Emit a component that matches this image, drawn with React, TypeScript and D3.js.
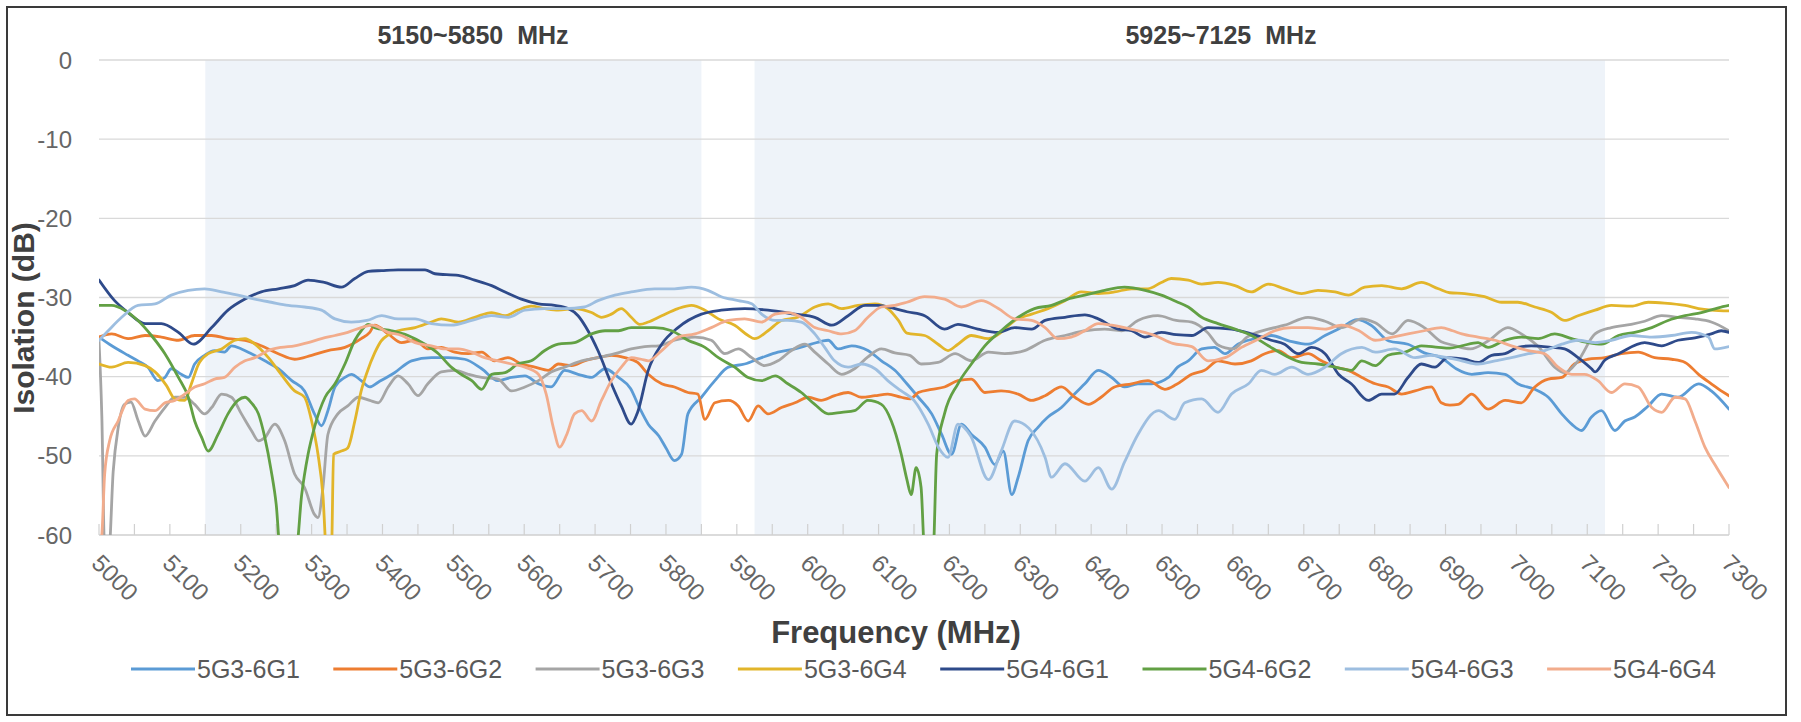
import React from "react";
import * as d3 from "d3";

type Pt = [number, number];

const seriesNames = ["5G3-6G1", "5G3-6G2", "5G3-6G3", "5G3-6G4", "5G4-6G1", "5G4-6G2", "5G4-6G3", "5G4-6G4"];
const seriesColors = ["#5B9BD5", "#ED7D31", "#A5A5A5", "#E2B52A", "#2E4A8A", "#62A044", "#9DBEE0", "#F2AC8C"];

const xTicks = [5000, 5100, 5200, 5300, 5400, 5500, 5600, 5700, 5800, 5900, 6000, 6100, 6200, 6300, 6400, 6500, 6600, 6700, 6800, 6900, 7000, 7100, 7200, 7300];
const yTicks = [0, -10, -20, -30, -40, -50, -60];
const bands: [number, number, string][] = [
  [5150, 5850, "5150~5850  MHz"],
  [5925, 7125, "5925~7125  MHz"],
];

const s5G3_6G1: Pt[] = [[5000,-35.0],[5018,-36.1],[5041,-37.3],[5055,-38.0],[5069,-38.8],[5083,-40.5],[5093,-40.1],[5102,-39.0],[5116,-39.7],[5126,-40.1],[5135,-38.4],[5149,-37.3],[5163,-36.7],[5177,-36.9],[5187,-36.1],[5201,-36.5],[5215,-37.1],[5234,-38.0],[5253,-39.0],[5272,-40.5],[5290,-41.8],[5304,-44.7],[5314,-46.2],[5323,-44.3],[5333,-41.3],[5347,-40.1],[5356,-39.7],[5370,-40.5],[5382,-41.3],[5394,-40.7],[5417,-39.5],[5441,-38.0],[5469,-37.6],[5493,-37.6],[5516,-37.8],[5540,-39.0],[5563,-40.5],[5582,-40.1],[5601,-39.9],[5620,-40.9],[5638,-41.3],[5657,-39.2],[5676,-39.7],[5695,-40.1],[5714,-39.0],[5733,-40.1],[5750,-41.5],[5763,-44.0],[5775,-46.0],[5790,-47.5],[5800,-49.0],[5812,-50.6],[5822,-49.8],[5831,-44.7],[5850,-42.6],[5869,-40.5],[5888,-38.8],[5911,-38.4],[5935,-37.6],[5958,-36.9],[5982,-36.5],[6005,-35.9],[6029,-35.4],[6043,-36.5],[6062,-36.1],[6085,-36.7],[6104,-38.0],[6123,-39.2],[6140,-40.9],[6156,-42.6],[6175,-44.7],[6189,-47.3],[6203,-49.8],[6217,-46.0],[6231,-47.3],[6250,-48.9],[6264,-51.1],[6276,-49.4],[6288,-54.9],[6297,-52.7],[6311,-48.1],[6325,-46.4],[6339,-45.1],[6358,-43.9],[6372,-42.6],[6391,-40.9],[6410,-39.2],[6429,-40.1],[6447,-41.3],[6466,-40.9],[6485,-40.9],[6509,-40.1],[6522,-38.8],[6537,-38.0],[6556,-36.5],[6574,-36.3],[6589,-37.1],[6607,-35.9],[6631,-35.2],[6654,-34.8],[6680,-35.5],[6706,-35.9],[6730,-34.8],[6753,-33.8],[6775,-32.8],[6795,-33.5],[6820,-35.5],[6847,-35.9],[6870,-37.0],[6894,-37.6],[6915,-39.0],[6937,-39.7],[6960,-39.5],[6984,-39.7],[7002,-40.9],[7026,-41.6],[7045,-42.6],[7064,-44.7],[7078,-46.0],[7092,-46.8],[7106,-45.1],[7120,-44.3],[7139,-46.8],[7153,-45.6],[7167,-45.1],[7186,-43.7],[7205,-42.2],[7228,-42.6],[7257,-40.9],[7275,-41.8],[7300,-44.1]];

const s5G3_6G2: Pt[] = [[5000,-35.0],[5018,-34.6],[5041,-35.2],[5065,-34.8],[5088,-35.0],[5112,-35.4],[5135,-34.8],[5159,-34.8],[5182,-35.2],[5206,-35.4],[5229,-36.1],[5253,-37.1],[5276,-37.8],[5300,-37.3],[5323,-36.7],[5347,-36.3],[5370,-35.2],[5382,-34.4],[5389,-33.5],[5408,-34.6],[5427,-35.7],[5446,-35.4],[5464,-36.5],[5483,-36.3],[5502,-36.9],[5521,-37.1],[5540,-36.9],[5558,-38.0],[5577,-37.6],[5596,-38.4],[5615,-38.8],[5634,-39.2],[5648,-38.4],[5667,-38.6],[5685,-38.0],[5704,-37.6],[5723,-37.3],[5742,-37.6],[5760,-38.2],[5775,-39.7],[5794,-40.9],[5812,-41.3],[5831,-42.0],[5845,-42.2],[5855,-45.4],[5869,-43.3],[5888,-43.0],[5902,-43.7],[5916,-45.6],[5930,-43.7],[5944,-44.7],[5963,-43.9],[5982,-43.3],[6001,-42.6],[6019,-43.0],[6038,-42.4],[6057,-42.0],[6076,-42.6],[6095,-42.4],[6113,-42.2],[6132,-42.6],[6145,-42.8],[6156,-42.0],[6175,-41.6],[6193,-41.3],[6212,-40.5],[6231,-40.3],[6250,-42.0],[6273,-41.8],[6297,-42.2],[6316,-43.0],[6335,-42.4],[6358,-41.3],[6377,-42.6],[6396,-43.5],[6414,-42.6],[6433,-41.3],[6457,-40.9],[6480,-40.5],[6504,-41.6],[6520,-41.0],[6542,-39.7],[6560,-39.2],[6579,-38.0],[6603,-38.4],[6626,-38.0],[6645,-37.1],[6664,-36.7],[6683,-37.6],[6706,-37.1],[6725,-38.0],[6744,-38.8],[6763,-39.2],[6782,-40.1],[6801,-40.9],[6819,-41.3],[6838,-42.2],[6857,-41.8],[6880,-41.3],[6894,-43.3],[6906,-43.6],[6918,-43.5],[6937,-42.2],[6960,-44.1],[6984,-43.0],[7007,-43.3],[7026,-41.3],[7045,-40.3],[7064,-40.1],[7082,-38.4],[7101,-37.8],[7125,-37.6],[7148,-37.1],[7172,-36.9],[7195,-37.6],[7219,-37.8],[7238,-38.2],[7257,-39.7],[7275,-40.9],[7289,-41.8],[7300,-42.4]];

const s5G3_6G3: Pt[] = [[5000,-35.5],[5004,-45.0],[5008,-62.0],[5014,-62.0],[5020,-52.0],[5027,-46.5],[5036,-43.5],[5045,-43.2],[5055,-45.5],[5065,-47.5],[5079,-45.6],[5093,-43.9],[5107,-42.6],[5121,-42.6],[5135,-43.5],[5149,-44.7],[5159,-43.9],[5173,-42.2],[5187,-42.6],[5201,-44.7],[5215,-46.8],[5225,-48.1],[5234,-47.7],[5248,-46.0],[5262,-48.1],[5276,-52.3],[5290,-54.0],[5304,-57.4],[5309,-57.8],[5316,-54.0],[5323,-47.3],[5337,-44.7],[5351,-43.7],[5366,-42.6],[5382,-43.0],[5394,-43.3],[5408,-41.3],[5422,-39.9],[5436,-40.9],[5450,-42.4],[5464,-40.9],[5483,-39.4],[5502,-39.2],[5521,-39.7],[5540,-40.1],[5563,-40.3],[5582,-41.8],[5601,-41.3],[5620,-40.5],[5638,-39.4],[5657,-38.8],[5681,-38.0],[5704,-37.6],[5728,-37.1],[5751,-36.5],[5770,-36.2],[5790,-36.1],[5812,-35.4],[5841,-35.0],[5864,-35.4],[5883,-37.1],[5902,-36.5],[5921,-37.6],[5939,-38.6],[5958,-38.0],[5977,-36.7],[5996,-35.9],[6010,-36.9],[6029,-38.4],[6048,-39.7],[6066,-39.0],[6085,-37.5],[6104,-36.5],[6123,-37.0],[6144,-37.3],[6160,-38.4],[6184,-38.2],[6208,-37.1],[6231,-38.0],[6255,-36.9],[6278,-37.1],[6306,-36.7],[6335,-35.4],[6363,-34.8],[6391,-34.2],[6419,-34.0],[6443,-34.2],[6466,-32.9],[6494,-32.3],[6520,-32.9],[6542,-33.1],[6565,-34.5],[6579,-36.0],[6600,-36.5],[6620,-35.0],[6650,-34.0],[6673,-33.5],[6706,-32.5],[6730,-33.0],[6753,-33.8],[6782,-32.7],[6801,-33.2],[6825,-34.6],[6847,-32.9],[6870,-33.8],[6894,-35.6],[6910,-36.0],[6935,-36.5],[6960,-35.5],[6988,-33.8],[7007,-34.6],[7031,-36.2],[7054,-38.8],[7068,-39.5],[7087,-38.0],[7111,-34.6],[7134,-33.8],[7162,-33.4],[7181,-33.0],[7205,-32.3],[7228,-32.5],[7252,-32.7],[7275,-33.1],[7300,-34.2]];

const s5G3_6G4: Pt[] = [[5000,-38.4],[5018,-38.8],[5041,-38.2],[5065,-38.6],[5079,-39.4],[5095,-41.1],[5107,-42.8],[5121,-43.0],[5130,-41.0],[5140,-38.5],[5154,-37.1],[5173,-36.5],[5192,-35.4],[5206,-35.2],[5220,-35.9],[5239,-37.6],[5257,-39.7],[5276,-41.8],[5290,-42.6],[5300,-45.6],[5309,-49.8],[5316,-55.0],[5321,-62.0],[5328,-62.0],[5331,-49.8],[5342,-49.4],[5351,-49.0],[5361,-45.6],[5370,-41.8],[5378,-39.5],[5389,-37.0],[5399,-35.4],[5422,-34.2],[5446,-33.8],[5469,-33.1],[5483,-32.7],[5507,-33.1],[5530,-32.5],[5554,-31.9],[5573,-32.3],[5591,-31.6],[5610,-31.1],[5629,-31.4],[5648,-31.6],[5671,-31.4],[5695,-31.9],[5709,-32.5],[5723,-32.1],[5737,-31.4],[5751,-32.5],[5763,-33.4],[5775,-33.1],[5794,-32.3],[5817,-31.4],[5836,-31.0],[5855,-31.6],[5874,-32.7],[5897,-33.5],[5916,-34.8],[5925,-35.2],[5944,-34.2],[5963,-32.9],[5986,-32.5],[6010,-31.2],[6029,-30.8],[6048,-31.4],[6071,-31.0],[6095,-30.8],[6113,-31.4],[6128,-32.9],[6140,-34.5],[6165,-34.8],[6184,-35.9],[6198,-36.7],[6212,-35.9],[6231,-34.8],[6255,-35.2],[6273,-34.4],[6292,-32.9],[6316,-32.1],[6339,-31.4],[6363,-30.4],[6386,-29.3],[6410,-29.5],[6433,-29.3],[6457,-28.9],[6480,-28.9],[6499,-28.1],[6513,-27.6],[6537,-27.8],[6556,-28.3],[6579,-28.1],[6603,-28.5],[6626,-29.3],[6650,-28.3],[6673,-28.9],[6697,-29.5],[6720,-29.1],[6744,-29.3],[6763,-29.7],[6786,-28.7],[6810,-28.5],[6838,-28.9],[6866,-28.1],[6890,-28.9],[6906,-29.4],[6927,-29.5],[6955,-29.9],[6979,-30.6],[7002,-30.6],[7026,-31.2],[7050,-31.9],[7068,-32.9],[7087,-32.3],[7111,-31.6],[7134,-31.0],[7162,-31.1],[7186,-30.6],[7209,-30.7],[7238,-31.0],[7257,-31.4],[7275,-31.6],[7300,-31.7]];

const s5G4_6G1: Pt[] = [[5000,-27.8],[5022,-30.4],[5041,-31.9],[5065,-33.3],[5088,-33.3],[5112,-34.4],[5133,-35.9],[5159,-33.8],[5182,-31.6],[5206,-30.2],[5229,-29.3],[5253,-28.9],[5276,-28.5],[5295,-27.8],[5318,-28.1],[5342,-28.7],[5361,-27.6],[5380,-26.7],[5399,-26.6],[5422,-26.5],[5460,-26.5],[5474,-27.0],[5507,-27.2],[5530,-27.8],[5554,-28.5],[5573,-29.3],[5596,-30.2],[5620,-30.8],[5643,-31.0],[5662,-31.4],[5676,-32.3],[5690,-34.2],[5704,-36.7],[5723,-40.9],[5737,-43.7],[5751,-46.0],[5760,-44.5],[5775,-39.2],[5794,-35.9],[5817,-33.8],[5850,-32.1],[5878,-31.6],[5911,-31.4],[5944,-31.6],[5982,-32.1],[6010,-32.5],[6034,-33.5],[6057,-32.3],[6081,-31.0],[6099,-31.0],[6123,-31.4],[6140,-31.8],[6165,-32.3],[6193,-34.0],[6212,-33.4],[6240,-34.0],[6269,-34.4],[6292,-33.8],[6316,-34.0],[6335,-32.9],[6363,-32.5],[6391,-32.2],[6410,-32.7],[6438,-34.0],[6457,-34.2],[6476,-35.0],[6499,-34.4],[6520,-34.7],[6542,-34.8],[6565,-33.8],[6598,-34.0],[6626,-34.6],[6654,-35.4],[6673,-35.9],[6692,-37.1],[6711,-36.3],[6730,-37.1],[6749,-39.7],[6767,-40.9],[6791,-43.0],[6810,-42.2],[6828,-42.2],[6847,-40.1],[6866,-38.4],[6885,-38.8],[6903,-37.6],[6927,-37.8],[6946,-38.2],[6965,-37.3],[6984,-37.1],[7002,-36.3],[7021,-36.1],[7050,-36.3],[7068,-36.5],[7087,-37.6],[7106,-39.0],[7111,-39.4],[7125,-37.9],[7144,-37.1],[7181,-35.7],[7205,-36.1],[7228,-35.4],[7252,-35.1],[7275,-34.6],[7289,-34.2],[7300,-34.4]];

const s5G4_6G2: Pt[] = [[5000,-31.0],[5018,-31.0],[5036,-31.6],[5055,-32.9],[5074,-34.8],[5093,-37.1],[5112,-40.1],[5126,-42.6],[5135,-45.6],[5145,-47.7],[5154,-49.4],[5168,-47.3],[5182,-44.7],[5196,-43.0],[5206,-42.6],[5215,-43.3],[5225,-44.7],[5234,-47.7],[5243,-51.9],[5250,-56.1],[5256,-62.0],[5278,-62.0],[5286,-54.9],[5295,-49.8],[5304,-46.4],[5319,-42.6],[5333,-40.9],[5347,-38.4],[5361,-35.4],[5370,-34.2],[5380,-33.4],[5389,-33.8],[5413,-34.2],[5436,-34.8],[5460,-35.9],[5479,-37.1],[5497,-38.8],[5511,-39.7],[5526,-40.5],[5540,-41.6],[5554,-39.7],[5573,-39.5],[5591,-38.4],[5610,-38.0],[5629,-36.7],[5648,-35.9],[5671,-35.7],[5695,-34.6],[5714,-34.2],[5733,-34.2],[5751,-33.8],[5784,-33.8],[5808,-34.2],[5831,-35.4],[5855,-36.3],[5874,-37.6],[5897,-38.8],[5916,-40.1],[5935,-40.5],[5954,-39.9],[5972,-40.9],[5991,-42.0],[6010,-43.5],[6029,-44.7],[6048,-44.5],[6066,-44.3],[6085,-43.0],[6104,-43.5],[6118,-45.6],[6132,-49.8],[6140,-53.0],[6146,-54.9],[6153,-51.5],[6160,-54.0],[6165,-62.0],[6177,-62.0],[6182,-49.8],[6193,-44.7],[6212,-40.9],[6231,-38.4],[6250,-36.1],[6273,-34.2],[6297,-32.5],[6320,-31.4],[6344,-31.0],[6367,-30.2],[6391,-29.7],[6419,-29.1],[6447,-28.7],[6476,-29.1],[6499,-29.7],[6520,-30.5],[6537,-31.2],[6556,-32.5],[6579,-33.3],[6603,-34.0],[6626,-34.8],[6650,-36.1],[6673,-37.3],[6697,-38.2],[6720,-38.4],[6744,-38.8],[6767,-39.2],[6782,-38.0],[6801,-38.6],[6819,-37.3],[6843,-36.9],[6866,-36.1],[6890,-36.3],[6906,-36.4],[6923,-36.1],[6946,-35.7],[6960,-36.3],[6984,-35.4],[7007,-35.0],[7031,-35.2],[7054,-34.6],[7078,-35.2],[7101,-35.7],[7120,-35.9],[7144,-34.8],[7167,-34.4],[7191,-33.8],[7214,-32.9],[7238,-32.3],[7261,-31.9],[7285,-31.3],[7300,-31.0]];

const s5G4_6G3: Pt[] = [[5000,-35.4],[5013,-34.2],[5032,-32.5],[5055,-31.0],[5079,-30.8],[5102,-29.7],[5126,-29.1],[5149,-28.9],[5173,-29.3],[5196,-29.7],[5220,-30.2],[5243,-30.6],[5267,-31.0],[5290,-31.2],[5314,-31.6],[5333,-32.7],[5356,-33.1],[5378,-32.9],[5399,-32.3],[5422,-32.7],[5446,-32.7],[5469,-33.3],[5497,-33.5],[5526,-32.9],[5554,-32.3],[5577,-32.5],[5601,-31.6],[5629,-31.4],[5657,-31.4],[5685,-31.2],[5704,-30.4],[5728,-29.7],[5751,-29.3],[5784,-28.9],[5812,-28.9],[5836,-28.7],[5859,-29.1],[5878,-29.9],[5902,-30.4],[5921,-30.8],[5935,-32.1],[5954,-32.9],[5972,-32.9],[5991,-33.1],[6010,-34.6],[6024,-36.3],[6038,-38.0],[6057,-38.8],[6076,-38.4],[6095,-39.0],[6113,-40.5],[6132,-41.8],[6150,-43.0],[6170,-46.0],[6185,-49.0],[6198,-50.2],[6212,-46.0],[6230,-47.5],[6255,-53.0],[6273,-49.4],[6292,-45.6],[6312,-46.5],[6335,-50.2],[6344,-52.7],[6363,-51.0],[6391,-53.2],[6410,-51.5],[6429,-54.2],[6447,-50.8],[6466,-47.3],[6495,-44.3],[6518,-45.4],[6532,-43.3],[6556,-42.8],[6579,-44.5],[6598,-42.2],[6622,-40.9],[6640,-39.2],[6659,-39.7],[6683,-38.8],[6706,-39.7],[6730,-38.8],[6753,-37.1],[6782,-36.3],[6801,-36.9],[6828,-36.5],[6857,-37.6],[6880,-37.3],[6903,-37.6],[6923,-38.0],[6946,-38.4],[6970,-38.0],[6993,-37.6],[7017,-37.1],[7040,-36.7],[7064,-35.9],[7087,-35.4],[7111,-35.7],[7134,-35.4],[7162,-34.8],[7191,-35.0],[7219,-34.8],[7247,-34.4],[7271,-35.0],[7280,-36.5],[7300,-36.2]];

const s5G4_6G4: Pt[] = [[5000,-62.0],[5004,-60.0],[5008,-52.3],[5015,-48.1],[5027,-45.6],[5041,-43.0],[5050,-42.8],[5065,-44.1],[5079,-44.3],[5093,-43.3],[5107,-43.0],[5121,-42.2],[5135,-41.3],[5149,-40.9],[5163,-40.3],[5177,-40.1],[5192,-38.8],[5206,-38.0],[5220,-37.6],[5239,-36.7],[5257,-36.3],[5276,-36.1],[5295,-35.7],[5314,-35.2],[5333,-34.8],[5351,-34.4],[5370,-33.8],[5385,-33.5],[5408,-34.4],[5427,-34.8],[5446,-35.7],[5469,-36.1],[5488,-36.5],[5507,-36.5],[5526,-36.9],[5544,-37.6],[5563,-38.0],[5582,-38.4],[5601,-38.8],[5620,-39.7],[5631,-42.2],[5641,-46.4],[5650,-48.9],[5660,-47.3],[5671,-44.7],[5681,-44.3],[5695,-45.6],[5709,-43.0],[5723,-40.5],[5737,-38.8],[5751,-37.6],[5765,-37.8],[5775,-38.0],[5794,-36.7],[5817,-35.0],[5841,-34.6],[5864,-33.8],[5888,-32.9],[5911,-32.7],[5935,-33.1],[5954,-32.1],[5972,-31.9],[5991,-32.5],[6010,-33.8],[6029,-34.2],[6048,-34.6],[6066,-34.2],[6085,-32.5],[6104,-31.2],[6123,-31.0],[6140,-30.6],[6165,-29.9],[6193,-30.2],[6217,-31.2],[6245,-30.4],[6269,-31.4],[6292,-32.7],[6316,-32.9],[6335,-33.8],[6353,-35.2],[6372,-35.0],[6391,-34.2],[6410,-33.3],[6429,-33.5],[6447,-33.8],[6466,-34.2],[6490,-34.8],[6515,-35.8],[6542,-36.2],[6565,-38.0],[6589,-37.6],[6612,-36.3],[6635,-35.3],[6659,-34.2],[6683,-33.8],[6706,-33.8],[6730,-34.0],[6753,-33.5],[6778,-34.2],[6801,-35.4],[6825,-35.0],[6847,-34.6],[6870,-34.2],[6894,-33.8],[6910,-34.2],[6923,-34.6],[6946,-35.0],[6970,-35.4],[6993,-36.1],[7017,-36.7],[7040,-37.1],[7059,-38.8],[7078,-39.7],[7096,-39.7],[7115,-40.5],[7134,-42.0],[7153,-40.9],[7172,-41.3],[7191,-43.9],[7205,-44.5],[7224,-42.6],[7238,-42.8],[7252,-45.6],[7266,-48.9],[7280,-51.1],[7300,-54.0]];

const seriesData: Pt[][] = [s5G3_6G1, s5G3_6G2, s5G3_6G3, s5G3_6G4, s5G4_6G1, s5G4_6G2, s5G4_6G3, s5G4_6G4];

const W = 1801;
const H = 722;
const FONT = "'Liberation Sans', Arial, sans-serif";

export default function App() {
  const x = d3.scaleLinear().domain([5000, 7300]).range([99, 1729]);
  const y = d3.scaleLinear().domain([0, -60]).range([60, 535]);
  const line = d3
    .line<Pt>()
    .x((d) => x(d[0]))
    .y((d) => y(d[1]))
    .curve(d3.curveMonotoneX);

  const minorTicks = d3.range(5000, 7301, 50);
  const legendX0 = 131;
  const legendStep = 202.3;
  const legendY = 669;

  return (
    <svg
      width={W}
      height={H}
      viewBox={`0 0 ${W} ${H}`}
      style={{ position: "absolute", left: 0, top: 0, background: "#fff" }}
      fontFamily={FONT}
    >
      <rect x={0} y={0} width={W} height={H} fill="#fff" />
      <defs>
        <clipPath id="plotClip">
          <rect x={x(5000)} y={y(0) - 2} width={x(7300) - x(5000)} height={y(-60) - y(0) + 2} />
        </clipPath>
      </defs>

      {bands.map(([a, b], i) => (
        <rect key={"band" + i} x={x(a)} y={y(0)} width={x(b) - x(a)} height={y(-60) - y(0)} fill="#EEF3F9" />
      ))}

      {yTicks.map((t) => (
        <line
          key={"g" + t}
          x1={x(5000)}
          x2={x(7300)}
          y1={y(t)}
          y2={y(t)}
          stroke={t === -60 ? "#CFCFCF" : "#D9D9D9"}
          strokeWidth={1.3}
        />
      ))}

      {minorTicks.map((t) => (
        <line key={"mt" + t} x1={x(t)} x2={x(t)} y1={y(-60)} y2={y(-60) - 11} stroke="#D0D0D0" strokeWidth={1.2} />
      ))}

      {yTicks.map((t) => (
        <text key={"yl" + t} x={72} y={y(t) + 8.5} textAnchor="end" fontSize={24} fill="#666666">
          {t}
        </text>
      ))}

      {xTicks.map((t) => (
        <text
          key={"xl" + t}
          transform={`translate(${x(t) + 4},${552}) rotate(45)`}
          dy="0.75em"
          fontSize={24}
          fill="#666666"
        >
          {t}
        </text>
      ))}

      <g clipPath="url(#plotClip)">
        {seriesData.map((d, i) => (
          <path
            key={"s" + i}
            d={line(d) || ""}
            fill="none"
            stroke={seriesColors[i]}
            strokeWidth={2.8}
            strokeLinejoin="round"
            strokeLinecap="round"
          />
        ))}
      </g>

      {bands.map(([a, b, label], i) => (
        <text
          key={"bl" + i}
          x={i === 0 ? 473 : 1221}
          y={44}
          textAnchor="middle"
          fontSize={25}
          fontWeight="bold"
          fill="#404040"
          style={{ whiteSpace: "pre" }}
        >
          {label}
        </text>
      ))}

      <text
        transform={`translate(34,318) rotate(-90)`}
        textAnchor="middle"
        fontSize={30}
        fontWeight="bold"
        fill="#404040"
      >
        Isolation (dB)
      </text>

      <text x={896} y={643} textAnchor="middle" fontSize={31} fontWeight="bold" fill="#404040">
        Frequency (MHz)
      </text>

      {seriesNames.map((n, i) => {
        const lx = legendX0 + i * legendStep;
        return (
          <g key={"lg" + i}>
            <line x1={lx} x2={lx + 64} y1={legendY} y2={legendY} stroke={seriesColors[i]} strokeWidth={3} />
            <text x={lx + 66} y={legendY + 9} fontSize={25} fill="#595959">
              {n}
            </text>
          </g>
        );
      })}

      <rect x={7} y={7} width={1779} height={708} fill="none" stroke="#3A3A3A" strokeWidth={2} />
    </svg>
  );
}
